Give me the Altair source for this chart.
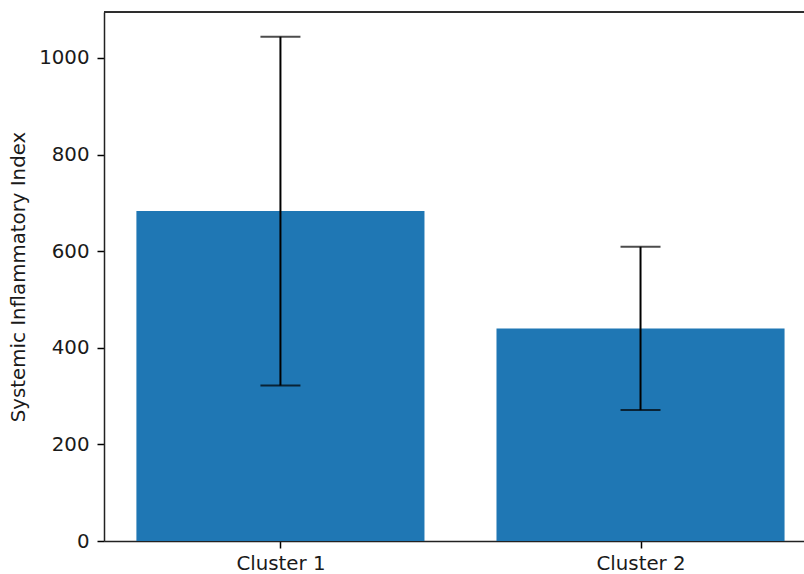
import altair as alt
import pandas as pd

# Mean Systemic Inflammatory Index per cluster, with standard deviation
clusters = ["Cluster 1", "Cluster 2"]
means = [683, 440]
errors = [361, 169]

positions = list(range(len(clusters)))
bar_half = 0.4

df = pd.DataFrame({
    "cluster": clusters,
    "pos": positions,
    "mean": means,
    "err": errors,
})
df["left"] = df["pos"] - bar_half
df["right"] = df["pos"] + bar_half
df["base"] = 0
df["lo"] = df["mean"] - df["err"]
df["hi"] = df["mean"] + df["err"]

FONT = "DejaVu Sans"
FS = 19.8
W, H = 700, 529

label_expr = " : ".join(
    f"datum.value == {p} ? '{c}'" for p, c in zip(positions, clusters)
) + " : ''"

x_scale = alt.Scale(domain=[-0.49, 1.454], nice=False, zero=False)
y_scale = alt.Scale(domain=[0, 1095], nice=False)

x_axis = alt.Axis(
    values=positions, labelExpr=label_expr, title=None, grid=False,
    tickSize=7, tickWidth=1.5, tickColor="#000", domainColor="#222",
    domainWidth=1.5, labelFont=FONT, labelFontSize=FS, labelColor="#1a1a1a",
    labelPadding=5,
)
y_axis = alt.Axis(
    values=[0, 200, 400, 600, 800, 1000], format="d",
    title="Systemic Inflammatory Index",
    grid=False, tickSize=7, tickWidth=1.5, tickColor="#000", domainColor="#222",
    domainWidth=1.5, labelFont=FONT, labelFontSize=FS, labelColor="#1a1a1a",
    labelPadding=8, titleFont=FONT, titleFontSize=FS, titleFontWeight="normal",
    titleColor="#1a1a1a", titlePadding=10,
)

bars = alt.Chart(df).mark_bar(color="#1f77b4").encode(
    x=alt.X("left:Q", scale=x_scale, axis=x_axis),
    x2="right:Q",
    y=alt.Y("mean:Q", scale=y_scale, axis=y_axis),
    y2="base:Q",
)

stems = alt.Chart(df).mark_rule(color="#000", strokeWidth=2).encode(
    x=alt.X("pos:Q", scale=x_scale),
    y=alt.Y("lo:Q", scale=y_scale),
    y2="hi:Q",
)

caps_lo = alt.Chart(df).mark_tick(
    color="#000", orient="horizontal", size=40, thickness=2
).encode(
    x=alt.X("pos:Q", scale=x_scale),
    y=alt.Y("lo:Q", scale=y_scale),
)
caps_hi = alt.Chart(df).mark_tick(
    color="#000", orient="horizontal", size=40, thickness=2
).encode(
    x=alt.X("pos:Q", scale=x_scale),
    y=alt.Y("hi:Q", scale=y_scale),
)

# top frame line of the plot area
top_frame = alt.Chart(df).mark_rule(color="#222", strokeWidth=1.5).encode(
    x=alt.value(0), x2=alt.value(W), y=alt.value(0),
)

chart = alt.layer(bars, stems, caps_lo, caps_hi, top_frame).properties(
    width=W, height=H,
    autosize=alt.AutoSizeParams(type="none"),
    padding={"left": 104, "top": 12, "right": 0, "bottom": 33},
).configure_view(stroke=None).configure(background="white")

chart.save("out.html", embed_options={"renderer": "svg", "actions": False})
